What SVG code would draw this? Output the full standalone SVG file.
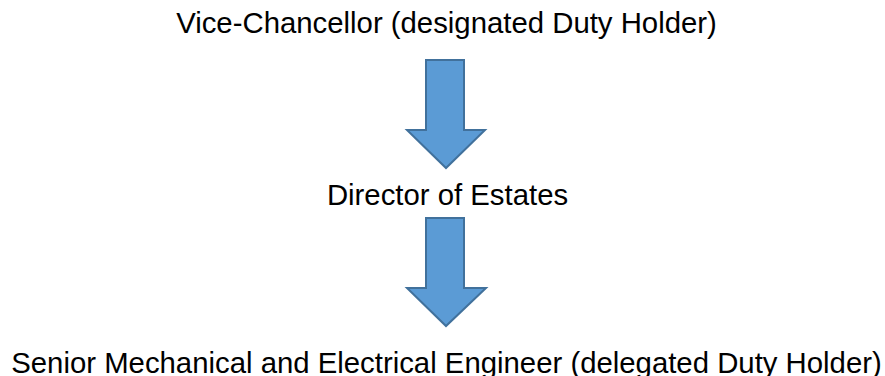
<svg xmlns="http://www.w3.org/2000/svg" width="885" height="376" viewBox="0 0 885 376">
  <style>
    .label { font-family: "Liberation Sans", Arial, sans-serif; font-size: 29.33px; fill: #000; text-anchor: middle; }
    .arrow { fill: #5B9BD5; stroke: #41719C; stroke-width: 2; stroke-linejoin: miter; }
  </style>
  <rect width="885" height="376" fill="#fff"/>
  <g id="vice-chancellor">
    <text class="label" x="446.5" y="33">Vice-Chancellor (designated Duty Holder)</text>
  </g>
  <g id="director-of-estates">
    <text class="label" x="447.5" y="205">Director of Estates</text>
  </g>
  <g id="senior-engineer">
    <text class="label" x="446.5" y="373">Senior Mechanical and Electrical Engineer (delegated Duty Holder)</text>
  </g>
  <g id="connectors">
    <polygon class="arrow" points="426,60 464,60 464,130 485,130 446,168 407,130 426,130"/>
    <polygon class="arrow" points="426,218 464,218 464,288 486,288 446,326 407,288 426,288"/>
  </g>
</svg>
